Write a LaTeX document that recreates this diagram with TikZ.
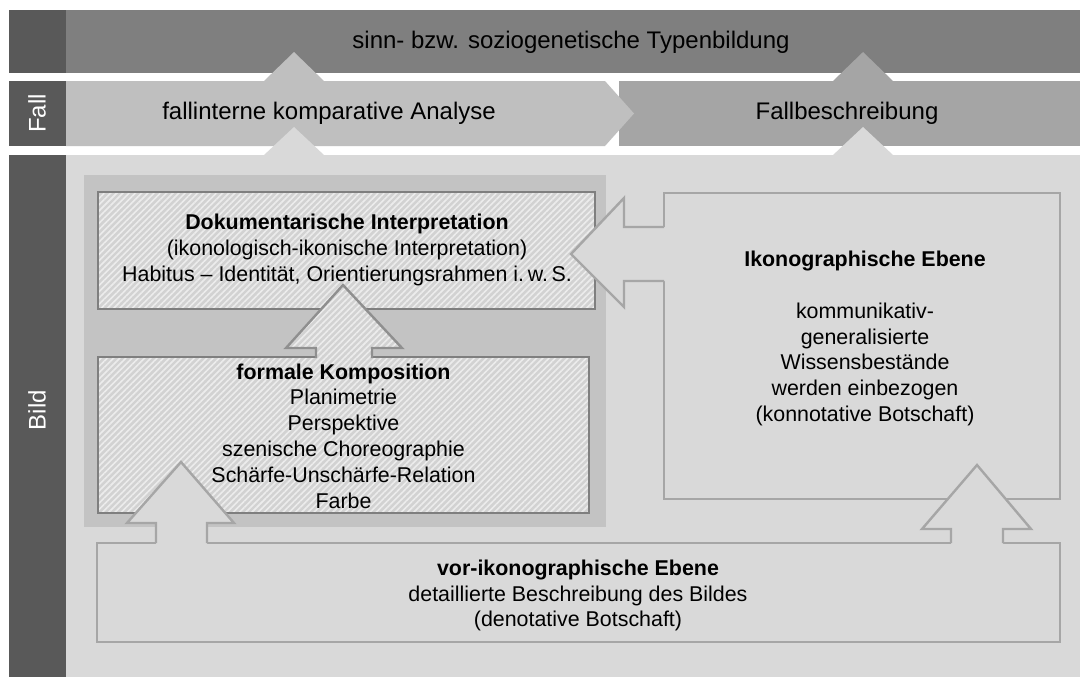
\documentclass[tikz,border=0pt]{standalone}
\usepackage{fontspec}
\setmainfont{Liberation Sans}
\usetikzlibrary{patterns.meta, positioning}

\definecolor{sidegray}{HTML}{595959}
\definecolor{bandgray}{HTML}{7F7F7F}
\definecolor{fallgray}{HTML}{BFBFBF}
\definecolor{beschrgray}{HTML}{A5A5A5}
\definecolor{bildgray}{HTML}{D9D9D9}
\definecolor{panelgray}{HTML}{C3C3C3}
\definecolor{linegray}{HTML}{A6A6A6}
\definecolor{boxborder}{HTML}{7F7F7F}
\definecolor{hatchbase}{HTML}{D2D2D2}
\definecolor{hatchline}{HTML}{ECECEC}
\definecolor{arrowline}{HTML}{8F8F8F}

\tikzset{
  lbl/.style={font=\fontsize{12}{14}\selectfont, inner sep=0pt},
  txt/.style={align=center, font=\fontsize{10.7}{12.9}\selectfont, inner sep=0pt},
  hatchfill/.style={fill=hatchbase, postaction={pattern={Lines[angle=45,distance=2.2pt,line width=0.8pt]}, pattern color=hatchline}},
  hatchbox/.style={hatchfill, postaction={draw=boxborder, line width=1.4pt}},
  outline/.style={draw=linegray, line width=1.2pt},
}

\begin{document}
\begin{tikzpicture}[x=0.5pt, y=-0.5pt]
  \useasboundingbox (0,0) rectangle (1080,677);
  \fill[white] (0,0) rectangle (1080,677);

  % Top band
  \fill[sidegray] (9,10) rectangle (66,73);
  \fill[bandgray] (66,10) rectangle (1080,73);
  \node[lbl] (typen) at (571,42) {sinn- bzw. soziogenetische Typenbildung};

  % Fall row
  \fill[sidegray] (9,81) rectangle (66,146);
  \fill[beschrgray] (619,81) rectangle (1080,146);
  \fill[fallgray] (66,81) -- (605,81) -- (634,113.5) -- (605,146) -- (66,146) -- cycle;
  \node[lbl, rotate=90, text=white] (fall) at (37,113.5) {Fall};
  \node[lbl] (analyse) at (329,113) {fallinterne komparative Analyse};
  \node[lbl] (beschr) at (847,113) {Fallbeschreibung};

  % tips from Fall row into top band
  \fill[fallgray] (264,81) -- (294,52) -- (324,81) -- cycle;
  \fill[beschrgray] (833,81) -- (863,52) -- (893,81) -- cycle;

  % Bild row
  \fill[sidegray] (9,155) rectangle (66,677);
  \fill[bildgray] (66,155) rectangle (1080,677);
  \node[lbl, rotate=90, text=white] (bild) at (37,410) {Bild};

  % tips from Bild row into Fall row
  \fill[bildgray] (264,155) -- (294,127) -- (324,155) -- cycle;
  \fill[bildgray] (833,155) -- (863,127) -- (893,155) -- cycle;

  % Interpretation panel
  \fill[panelgray] (84,175) rectangle (606,527);
  \path[hatchbox] (98,192) rectangle (595,309);
  \path[hatchbox] (98,357) rectangle (589,513);

  % arrow formale Komposition -> Dokumentarische Interpretation
  \fill[hatchfill] (316,360) -- (316,348) -- (286,348) -- (343,285) -- (402,348) -- (372,348) -- (372,360) -- cycle;
  \draw[arrowline, line width=1.2pt, line join=miter] (316,358) -- (316,348) -- (286,348) -- (343,285) -- (402,348) -- (372,348) -- (372,358);

  \node[txt] (doku) at (347,250) {\textbf{Dokumentarische Interpretation}\\
    (ikonologisch-ikonische Interpretation)\\
    Habitus -- Identität, Orientierungsrahmen i.\,w.\,S.};
  \node[txt] (formal) at (343.5,436) {\textbf{formale Komposition}\\
    Planimetrie\\ Perspektive\\ szenische Choreographie\\
    Schärfe-Unschärfe-Relation\\ Farbe};

  % Ikonographische Ebene
  \draw[outline] (664,193) rectangle (1060,499);
  \node[txt] (ikon) at (865,338.5) {\textbf{Ikonographische Ebene}\\[12.9pt]
    kommunikativ-\\ generalisierte\\ Wissensbestände\\
    werden einbezogen\\ (konnotative Botschaft)};

  % arrow Ikonographische Ebene -> Dokumentarische Interpretation
  \fill[bildgray] (667,227) -- (624,227) -- (624,198) -- (571,254) -- (624,307) -- (624,281) -- (667,281) -- cycle;
  \draw[outline] (664,227) -- (624,227) -- (624,198) -- (571,254) -- (624,307) -- (624,281) -- (664,281);

  % vor-ikonographische Ebene
  \draw[outline] (97,543) rectangle (1060,642);
  \node[txt] (vorikon) at (578,595.5) {\textbf{vor-ikonographische Ebene}\\
    detaillierte Beschreibung des Bildes\\ (denotative Botschaft)};

  % arrows out of vor-ikonographische Ebene
  \fill[bildgray] (156,546) -- (156,523) -- (127,523) -- (181,462) -- (234,523) -- (207,523) -- (207,546) -- cycle;
  \draw[outline] (156,543) -- (156,523) -- (127,523) -- (181,462) -- (234,523) -- (207,523) -- (207,543);
  \fill[bildgray] (951,546) -- (951,529) -- (922,529) -- (977,465) -- (1031,529) -- (1003,529) -- (1003,546) -- cycle;
  \draw[outline] (951,543) -- (951,529) -- (922,529) -- (977,465) -- (1031,529) -- (1003,529) -- (1003,543);
\end{tikzpicture}
\end{document}
